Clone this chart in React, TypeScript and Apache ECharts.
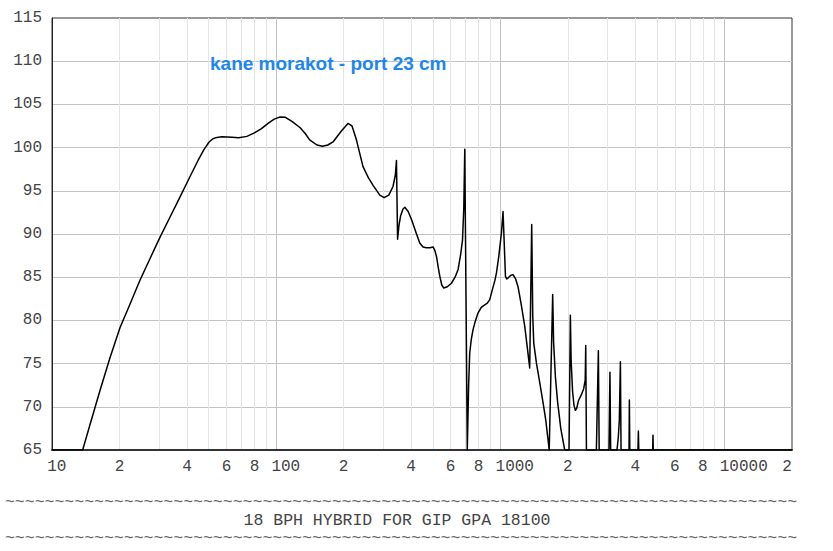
import React, { useEffect, useRef } from "react";
import * as echarts from "echarts";

// Frequency response (Hz -> dB SPL)
const FREQ_HZ = [
  10, 13.7, 14.77, 16.37, 18.14, 20.1, 22.27, 24.68, 27.35, 30.3, 33.58, 37.21, 41.23, 44.76, 47.61, 50.12, 52.22,
  54.41, 57.28, 63.48, 68, 74, 80, 86, 92, 98, 104, 110, 118, 128, 135, 141, 152, 161, 170, 180, 195, 209, 218, 228,
  244, 258, 271, 290, 303, 318, 332, 340, 344, 348, 353, 359, 368, 375, 388, 402, 420, 437, 452, 468, 485, 501, 510,
  519, 528, 537, 548, 559, 580, 605, 628, 648, 665, 678, 687, 694, 712, 716, 722, 730, 742, 755, 775, 795, 822, 852,
  875, 897, 920, 945, 961, 985, 1011, 1028, 1054, 1068, 1082, 1110, 1139, 1170, 1199, 1240, 1285, 1320, 1352, 1380,
  1395, 1409, 1450, 1499, 1550, 1594, 1652, 1662, 1712, 1728, 1760, 1800, 1860, 1937, 2025, 2053, 2068, 2100, 2130,
  2161, 2190, 2230, 2299, 2354, 2391, 2404, 2421, 2682, 2737, 2760, 3051, 3083, 3105, 3314, 3360, 3395, 3432, 3455,
  3750, 3763, 3780, 4110, 4128, 4145, 4780, 4796, 4812, 20000,
];
const SPL_DB = [
  65, 65, 67.93, 71.89, 75.68, 79.15, 81.87, 84.65, 87.14, 89.61, 91.94, 94.26, 96.63, 98.48, 99.76, 100.62, 101.03,
  101.18, 101.26, 101.2, 101.15, 101.3, 101.7, 102.2, 102.8, 103.3, 103.55, 103.5, 103.0, 102.3, 101.6, 100.9, 100.3,
  100.15, 100.3, 100.7, 101.9, 102.8, 102.5, 100.9, 97.8, 96.5, 95.6, 94.5, 94.2, 94.5, 95.5, 96.8, 98.5, 89.4, 91.0,
  92.1, 92.9, 93.1, 92.6, 91.65, 90.2, 88.95, 88.5, 88.4, 88.4, 88.5, 88.1, 87.4, 86.2, 85.1, 84.1, 83.75, 83.9, 84.3,
  85.0, 85.9, 87.6, 89.3, 93.0, 99.8, 65, 68, 72.5, 76.2, 77.8, 78.9, 80.0, 80.85, 81.5, 81.8, 82.0, 82.4, 83.5, 84.6,
  85.5, 87.5, 90.1, 92.6, 85.1, 84.8, 84.9, 85.2, 85.3, 84.8, 83.9, 81.8, 79.3, 76.8, 74.5, 91.1, 80.5, 77.4, 75.0,
  72.8, 70.5, 68.5, 65, 65, 83.0, 77.5, 73.5, 70.6, 67.5, 65, 65, 80.6, 75.5, 71.8, 70.2, 69.6, 69.8, 70.7, 71.4, 72.1,
  73.1, 77.1, 65, 65, 76.5, 65, 65, 74.0, 65, 65, 66.5, 68.5, 75.2, 65, 65, 70.8, 65, 65, 67.2, 65, 65, 66.7, 65, 65,
];

const Y_MIN = 65;
const Y_MAX = 115;
const Y_STEP = 5;
const F_MIN = 10;
const F_MAX = 20000;
const DECADES_HZ = [10, 100, 1000, 10000];
const GRID_HZ = [
  10, 20, 30, 40, 50, 60, 70, 80, 90, 100, 200, 300, 400, 500, 600, 700, 800, 900, 1000, 2000, 3000, 4000, 5000,
  6000, 7000, 8000, 9000, 10000, 20000,
];
const LABEL_HZ = [10, 20, 40, 60, 80, 100, 200, 400, 600, 800, 1000, 2000, 4000, 6000, 8000, 10000, 20000];

const TITLE = "kane morakot - port 23 cm";
const FOOTER = "18 BPH HYBRID FOR GIP GPA 18100";
const TILDES = "~".repeat(80);

const MONO = "'Liberation Mono', 'DejaVu Sans Mono', monospace";
const CHAR_W = 9.6;

export default function App() {
  const ref = useRef<HTMLDivElement>(null);

  useEffect(() => {
    const chart = echarts.init(ref.current!, null, { renderer: "svg" });
    const lg = (f: number) => Math.log10(f);
    const labelFormatter = (v: number) => {
      const f = Math.round(Math.pow(10, v));
      if (Math.abs(v - Math.round(v)) < 1e-6) {
        const s = String(f);
        return `{d${s.length}|${s}}`;
      }
      if (f === F_MAX) return `{e|${String(f).charAt(0)}}`;
      return String(f).charAt(0);
    };
    const rich: any = {};
    for (let n = 2; n <= 5; n++) {
      rich["d" + n] = {
        fontFamily: MONO,
        fontSize: 16,
        color: "#444",
        padding: [0, 0, 0, (n - 1) * CHAR_W],
      };
    }
    rich.e = { fontFamily: MONO, fontSize: 16, color: "#444", padding: [0, 10, 0, 0] };
    const option: any = {
      animation: false,
      backgroundColor: "#fff",
      grid: {
        left: 52,
        top: 18,
        width: 740,
        height: 432,
        show: true,
        borderColor: "#333",
        borderWidth: 1,
        containLabel: false,
        outerBoundsMode: "none",
      },
      xAxis: [
        {
          type: "value",
          min: lg(F_MIN),
          max: lg(F_MAX),
          axisLine: { show: true, onZero: false, lineStyle: { color: "#333", width: 2 } },
          axisTick: { show: false, customValues: GRID_HZ.map(lg) },
          axisLabel: {
            customValues: LABEL_HZ.map(lg),
            formatter: labelFormatter,
            fontFamily: MONO,
            fontSize: 16,
            color: "#444",
            margin: 9,
            rich,
          },
          splitLine: { show: true, showMinLine: false, showMaxLine: false, lineStyle: { color: "#e4e4e4", width: 1 } },
        },
        {
          type: "value",
          min: lg(F_MIN),
          max: lg(F_MAX),
          position: "top",
          axisLine: { show: false },
          axisTick: { show: false, customValues: DECADES_HZ.map(lg) },
          axisLabel: { show: false },
          splitLine: { show: true, showMinLine: false, lineStyle: { color: "#c4c4c4", width: 1 } },
        },
      ],
      yAxis: {
        type: "value",
        min: Y_MIN,
        max: Y_MAX,
        interval: Y_STEP,
        axisLine: { show: true, lineStyle: { color: "#222", width: 1 } },
        axisTick: { show: false },
        axisLabel: { fontFamily: MONO, fontSize: 16, color: "#444", margin: 10 },
        splitLine: { show: true, showMinLine: false, showMaxLine: false, lineStyle: { color: "#c4c4c4", width: 1 } },
      },
      series: [
        {
          type: "line",
          xAxisIndex: 0,
          data: FREQ_HZ.map((f, i) => [lg(f), SPL_DB[i]]),
          symbol: "none",
          showSymbol: false,
          smooth: false,
          clip: true,
          z: 5,
          lineStyle: { color: "#000", width: 1.5, join: "round" },
        },
      ],
      graphic: [
        {
          type: "text",
          left: 210,
          top: 54,
          z: 10,
          style: {
            text: TITLE,
            fontFamily: "'Liberation Sans', Arial, sans-serif",
            fontWeight: "bold",
            fontSize: 19,
            fill: "#1c86f2",
            stroke: "none",
            lineWidth: 0,
          },
        },
        {
          type: "text",
          x: 401,
          y: 502,
          style: {
            text: TILDES,
            fontFamily: MONO,
            fontSize: 16.5,
            fill: "#666",
            align: "center",
            verticalAlign: "middle",
          },
        },
        {
          type: "text",
          x: 397,
          y: 520,
          style: {
            text: FOOTER,
            fontFamily: MONO,
            fontSize: 16.5,
            fill: "#444",
            align: "center",
            verticalAlign: "middle",
          },
        },
        {
          type: "text",
          x: 401,
          y: 538,
          style: {
            text: TILDES,
            fontFamily: MONO,
            fontSize: 16.5,
            fill: "#666",
            align: "center",
            verticalAlign: "middle",
          },
        },
      ],
    };
    chart.setOption(option);
    return () => chart.dispose();
  }, []);

  return (
    <div
      ref={ref}
      style={{ position: "fixed", left: 0, top: 0, width: 833, height: 551, background: "#fff" }}
    />
  );
}
